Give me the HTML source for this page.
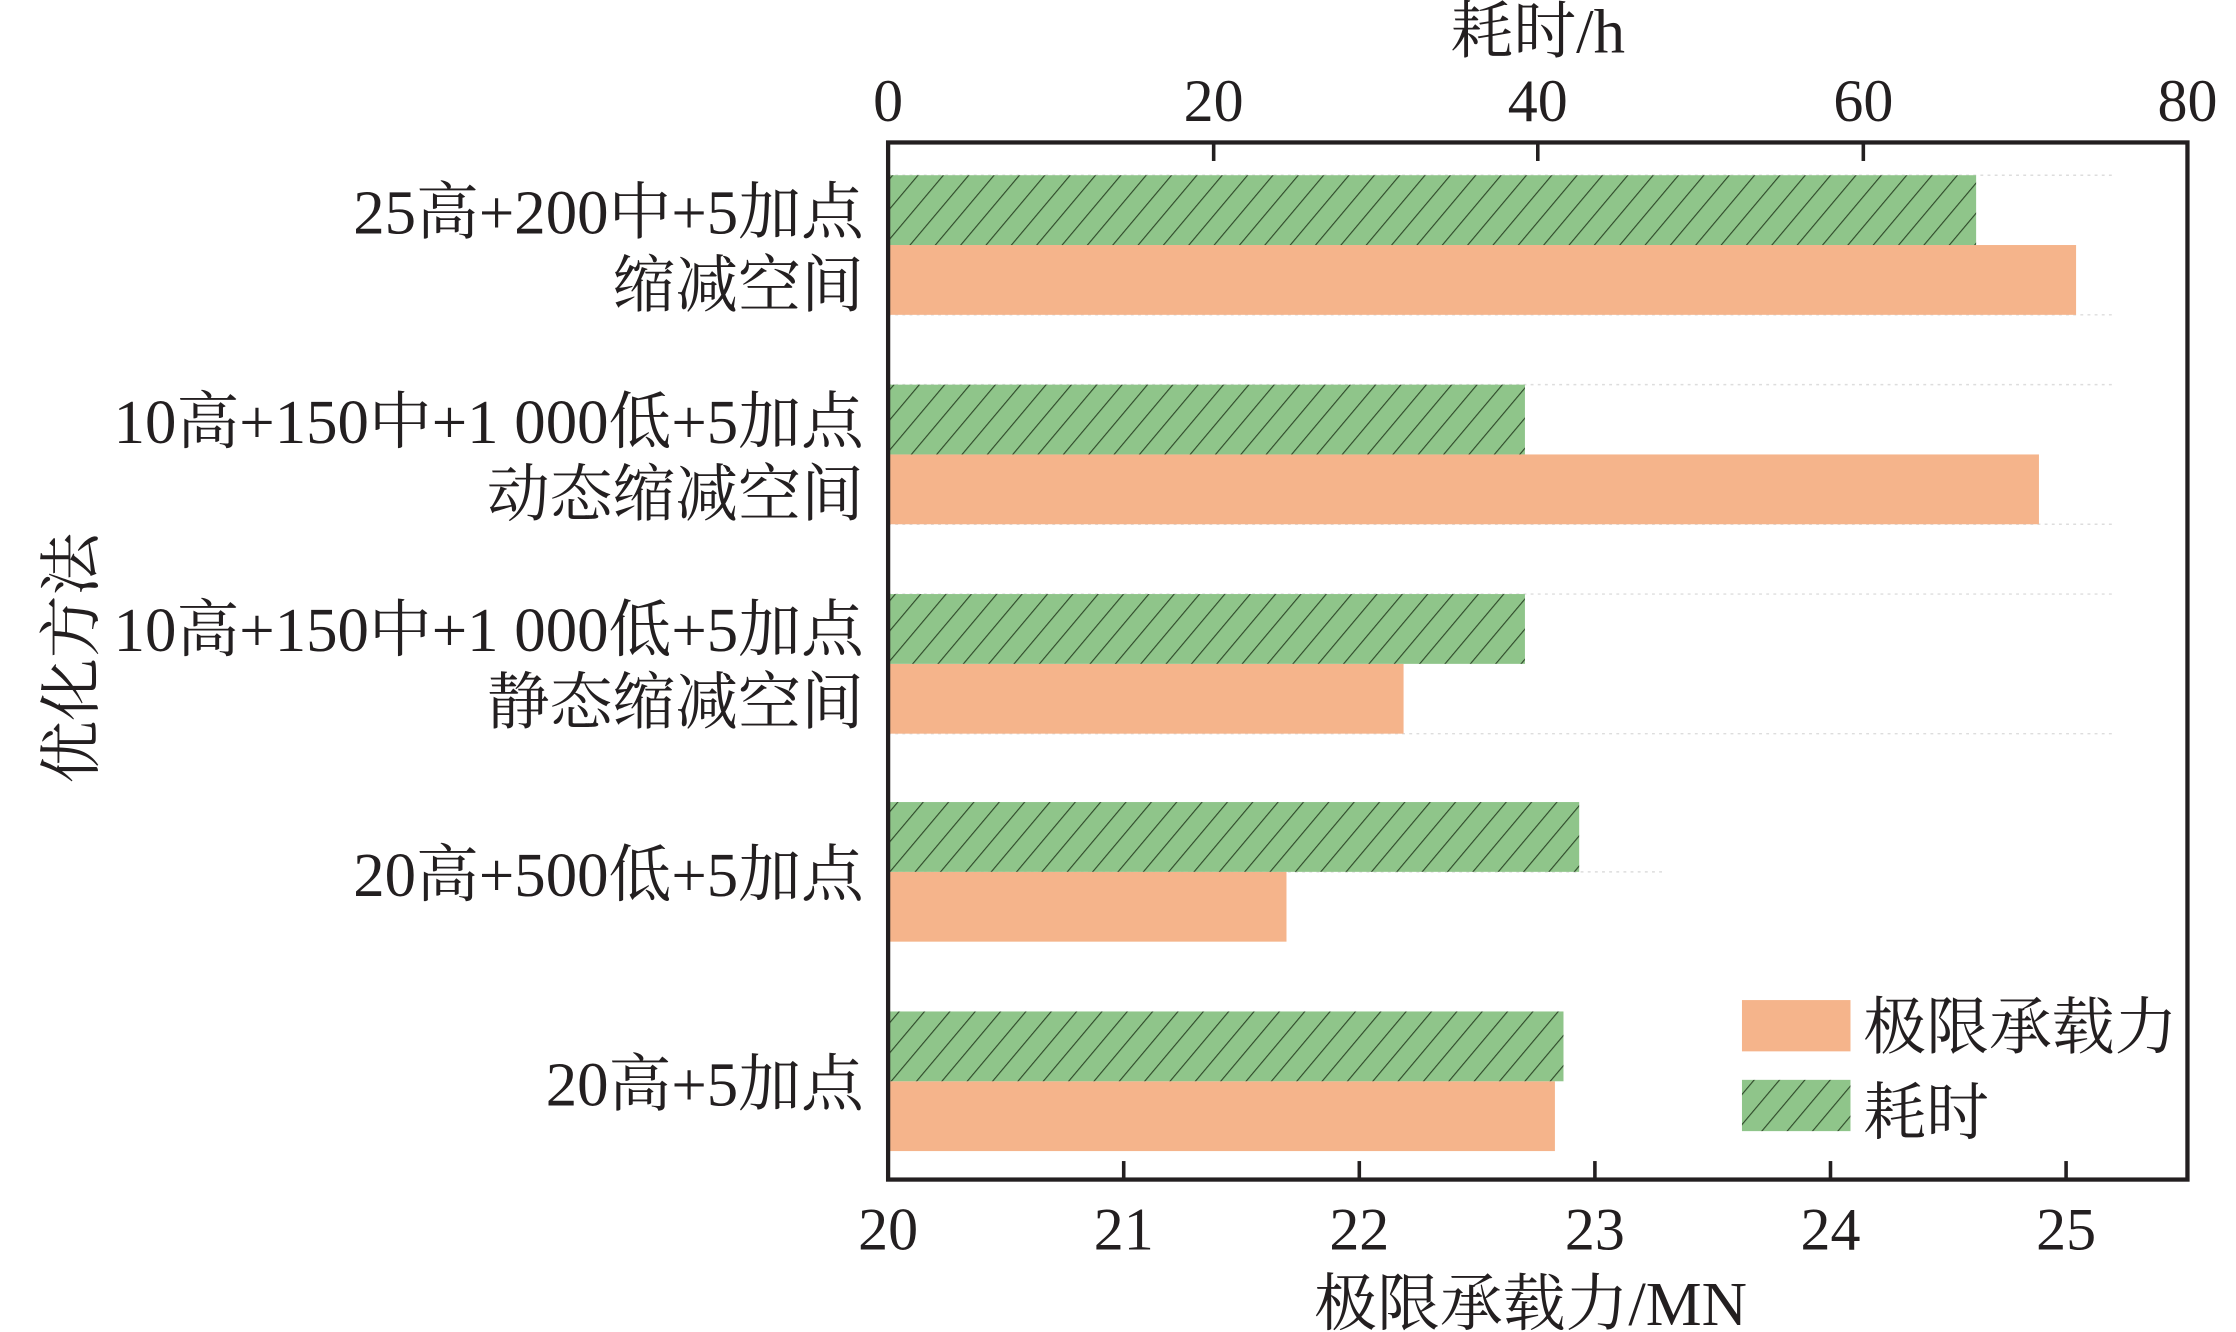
<!DOCTYPE html>
<html><head><meta charset="utf-8">
<style>
html,body{margin:0;padding:0;background:#fff;}
svg{display:block;}
text{font-family:"Liberation Serif","Noto Serif CJK SC",serif;fill:#231f20;}
</style></head><body>
<svg width="2236" height="1332" viewBox="0 0 1566 935" preserveAspectRatio="none" xmlns="http://www.w3.org/2000/svg">
<defs>
<pattern id="h" patternUnits="userSpaceOnUse" width="13.6" height="13.6" patternTransform="rotate(40)">
<rect width="13.6" height="13.6" fill="#8fc58a"/>
<line x1="0" y1="0" x2="0" y2="13.6" stroke="#2f4a2a" stroke-width="1.6"/>
</pattern>
</defs>
<g stroke="#ddd" stroke-width="1" stroke-dasharray="2,3">
<line x1="622" y1="123" x2="1480" y2="123"/><line x1="622" y1="221" x2="1480" y2="221"/>
<line x1="622" y1="270" x2="1480" y2="270"/><line x1="622" y1="368" x2="1480" y2="368"/>
<line x1="622" y1="417" x2="1480" y2="417"/><line x1="622" y1="515" x2="1480" y2="515"/>
<line x1="622" y1="612" x2="1165" y2="612"/>
</g>
<g fill="#f5b48b">
<rect x="622" y="172" width="832" height="49"/>
<rect x="622" y="319" width="806" height="49"/>
<rect x="622" y="466" width="361" height="49"/>
<rect x="622" y="612" width="279" height="49"/>
<rect x="622" y="759" width="467" height="49"/>
</g>
<g fill="url(#h)">
<rect x="622" y="123" width="762" height="49"/>
<rect x="622" y="270" width="446" height="49"/>
<rect x="622" y="417" width="446" height="49"/>
<rect x="622" y="563" width="484" height="49"/>
<rect x="622" y="710" width="473" height="49"/>
</g>
<rect x="622" y="100" width="910" height="728" fill="none" stroke="#231f20" stroke-width="3"/>
<g stroke="#231f20" stroke-width="2.5">
<line x1="787" y1="828" x2="787" y2="815"/><line x1="952" y1="828" x2="952" y2="815"/>
<line x1="1117" y1="828" x2="1117" y2="815"/><line x1="1282" y1="828" x2="1282" y2="815"/>
<line x1="1447" y1="828" x2="1447" y2="815"/>
<line x1="850" y1="100" x2="850" y2="113"/><line x1="1077" y1="100" x2="1077" y2="113"/>
<line x1="1305" y1="100" x2="1305" y2="113"/>
</g>
<g font-size="42" text-anchor="middle">
<text x="622" y="877">20</text><text x="787" y="877">21</text><text x="952" y="877">22</text>
<text x="1117" y="877">23</text><text x="1282" y="877">24</text><text x="1447" y="877">25</text>
<text x="622" y="85">0</text><text x="850" y="85">20</text><text x="1077" y="85">40</text>
<text x="1305" y="85">60</text><text x="1532" y="85">80</text>
<text x="1072" y="930" font-size="44">极限承载力/MN</text>
<text x="1077" y="37" font-size="44">耗时/h</text>
</g>
<g font-size="44" text-anchor="end">
<text x="605" y="164">25高+200中+5加点</text><text x="605" y="215">缩减空间</text>
<text x="605" y="311">10高+150中+1 000低+5加点</text><text x="605" y="362">动态缩减空间</text>
<text x="605" y="457">10高+150中+1 000低+5加点</text><text x="605" y="508">静态缩减空间</text>
<text x="605" y="629">20高+500低+5加点</text>
<text x="605" y="776">20高+5加点</text>
</g>
<text font-size="44" text-anchor="middle" transform="translate(65,462) rotate(-90)">优化方法</text>
<rect x="1220" y="702" width="76" height="36" fill="#f5b48b"/>
<rect x="1220" y="758" width="76" height="36" fill="url(#h)"/>
<g font-size="44">
<text x="1305" y="736">极限承载力</text>
<text x="1305" y="796">耗时</text>
</g>
</svg>
</body></html>
